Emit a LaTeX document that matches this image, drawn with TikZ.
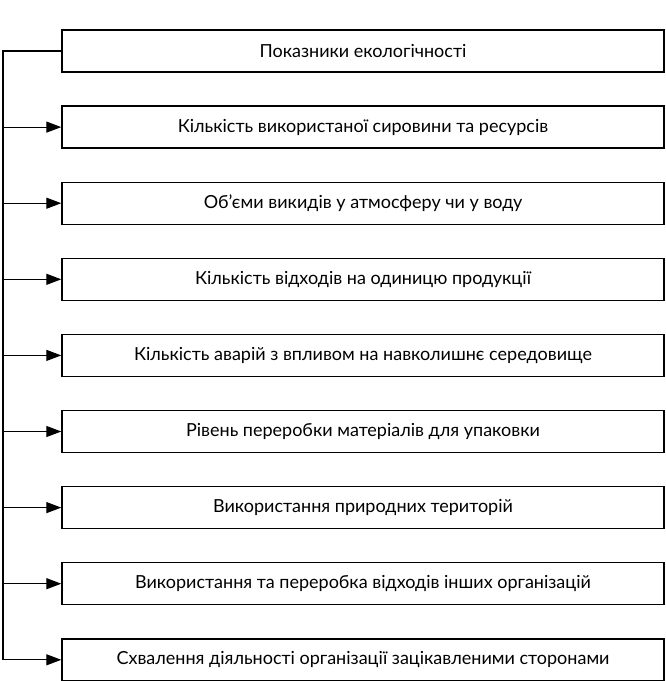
\documentclass[tikz,border=0pt]{standalone}
\usepackage{fontspec}
\setmainfont{Lato}
\usetikzlibrary{positioning,arrows.meta,chains}

\begin{document}
\begin{tikzpicture}[x=1pt, y=1pt,
    node distance = 32.7pt,
      start chain = going below,
       box/.style = {draw, line width=1.4pt, minimum width=602pt,
                     minimum height=42pt, inner sep=0pt,
                     font=\fontsize{18}{21}\selectfont, on chain},
       arr/.style = {line width=1.2pt, -{Triangle[length=15pt,width=11pt]}},
                    ]
    \useasboundingbox (0,0) rectangle (665,-681);
    \coordinate (spine) at (3,0);
    %
    \node[box] (b1) at (363,-51) {Показники екологічності};
    \node[box] (b2) {Кількість використаної сировини та ресурсів};
    \node[box] (b3) {Об’єми викидів у атмосферу чи у воду};
    \node[box] (b4) {Кількість відходів на одиницю продукції};
    \node[box] (b5) {Кількість аварій з впливом на навколишнє середовище};
    \node[box] (b6) {Рівень переробки матеріалів для упаковки};
    \node[box] (b7) {Використання природних територій};
    \node[box] (b8) {Використання та переробка відходів інших організацій};
    \node[box] (b9) {Схвалення діяльності організації зацікавленими сторонами};
    %% left line and arrows
    \draw[line width=1.2pt] (b1.west) -- (spine |- b1.west) -- (spine |- b9.west);
    \foreach \i in {2,...,9}
        \draw[arr] (spine |- b\i.west) -- (b\i.west);
\end{tikzpicture}
\end{document}
